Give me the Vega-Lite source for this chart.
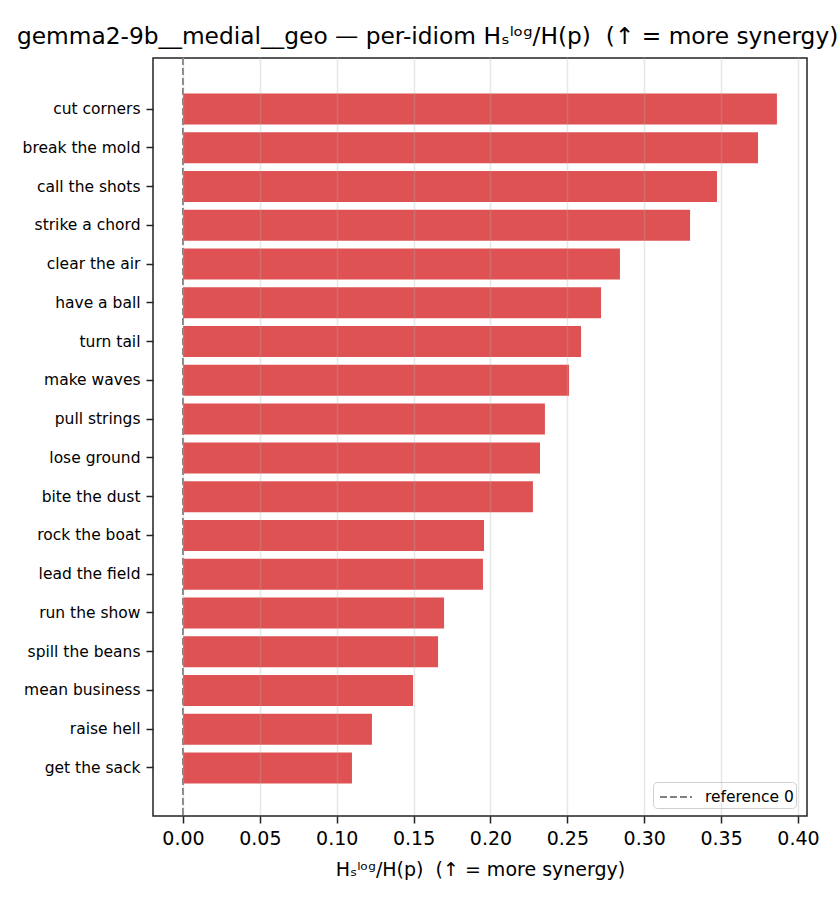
{
  "$schema": "https://vega.github.io/schema/vega-lite/v6.json",
  "width": 654,
  "height": 758,
  "autosize": "none",
  "padding": {"left": 153, "top": 58, "right": 33, "bottom": 94},
  "background": "white",
  "title": {
    "text": "gemma2-9b__medial__geo — per-idiom Hₛˡᵒᵍ/H(p)\u00a0 (↑ = more synergy)",
    "anchor": "start",
    "frame": "group",
    "dx": -136,
    "offset": -10,
    "baseline": "alphabetic",
    "fontSize": 23.3,
    "fontWeight": "normal",
    "font": "DejaVu Sans",
    "color": "black"
  },
  "layer": [
    {
      "data": {
        "values": [
          {"idiom": "cut corners", "ratio": 0.3863},
          {"idiom": "break the mold", "ratio": 0.3740},
          {"idiom": "call the shots", "ratio": 0.3473},
          {"idiom": "strike a chord", "ratio": 0.3298},
          {"idiom": "clear the air", "ratio": 0.2842},
          {"idiom": "have a ball", "ratio": 0.2719},
          {"idiom": "turn tail", "ratio": 0.2589},
          {"idiom": "make waves", "ratio": 0.2511},
          {"idiom": "pull strings", "ratio": 0.2354},
          {"idiom": "lose ground", "ratio": 0.2322},
          {"idiom": "bite the dust", "ratio": 0.2276},
          {"idiom": "rock the boat", "ratio": 0.1958},
          {"idiom": "lead the field", "ratio": 0.1951},
          {"idiom": "run the show", "ratio": 0.1698},
          {"idiom": "spill the beans", "ratio": 0.1659},
          {"idiom": "mean business", "ratio": 0.1496},
          {"idiom": "raise hell", "ratio": 0.1229},
          {"idiom": "get the sack", "ratio": 0.1099}
        ]
      },
      "mark": {"type": "bar", "color": "#de5253"},
      "encoding": {
        "y": {
          "field": "idiom",
          "type": "nominal",
          "sort": null,
          "scale": {"paddingInner": 0.2, "paddingOuter": 0.88, "range": [1.5, 759.5]},
          "axis": {
            "title": null,
            "labelFontSize": 15.5,
            "labelPadding": 6,
            "tickSize": 7,
            "grid": false
          }
        },
        "x": {
          "field": "ratio",
          "type": "quantitative",
          "scale": {"domain": [-0.0195, 0.40585], "nice": false, "zero": false},
          "axis": {
            "title": "Hₛˡᵒᵍ/H(p)\u00a0 (↑ = more synergy)",
            "values": [0, 0.05, 0.1, 0.15, 0.2, 0.25, 0.3, 0.35, 0.4],
            "format": ".2f",
            "labelFontSize": 19,
            "labelPadding": 6,
            "tickSize": 7,
            "titleFontSize": 19,
            "titleFontWeight": "normal",
            "titlePadding": 12,
            "grid": true,
            "gridColor": "#b0b0b0",
            "gridOpacity": 0.3,
            "gridWidth": 1.5,
            "zindex": 1
          }
        }
      }
    },
    {
      "data": {"values": [{"ref": 0, "label": "reference 0"}]},
      "mark": {"type": "rule", "color": "#808080", "strokeWidth": 1.9},
      "encoding": {
        "x": {"field": "ref", "type": "quantitative"},
        "strokeDash": {
          "field": "label",
          "type": "nominal",
          "scale": {"range": [[7, 3]]},
          "legend": {
            "title": null,
            "orient": "none",
            "legendX": 500,
            "legendY": 724,
            "padding": 2,
            "fillColor": "white",
            "strokeColor": "#d0d0d0",
            "cornerRadius": 4,
            "labelFontSize": 15.5,
            "labelOffset": 24,
            "labelExpr": "datum.label + '\u00a0'",
            "symbolType": "M-0.67,0H2",
            "symbolSize": 576,
            "symbolStrokeWidth": 1.9,
            "symbolStrokeColor": "#808080"
          }
        }
      }
    }
  ],
  "config": {
    "font": "DejaVu Sans",
    "view": {"stroke": "#222222", "strokeWidth": 1.5},
    "axis": {
      "domain": false,
      "tickColor": "#222222",
      "tickWidth": 1.5,
      "labelColor": "black",
      "titleColor": "black",
      "labelFont": "DejaVu Sans",
      "titleFont": "DejaVu Sans"
    },
    "legend": {"labelColor": "black", "labelFont": "DejaVu Sans"}
  }
}
